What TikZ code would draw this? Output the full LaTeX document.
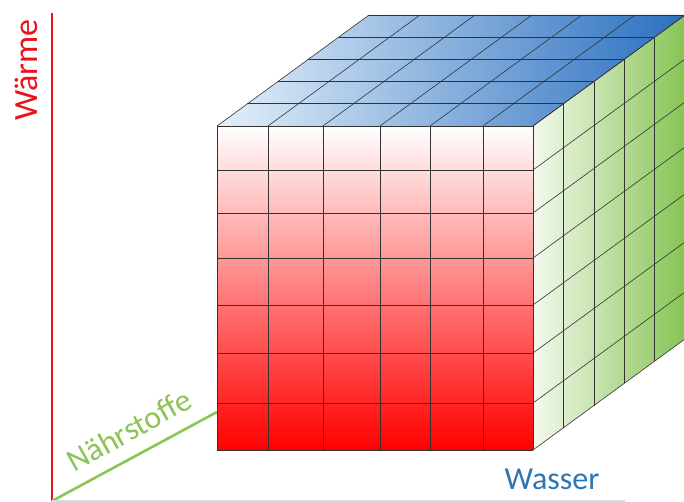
\documentclass[tikz,border=0pt]{standalone}
\usepackage{fontspec}
\setmainfont{Carlito}
\usepackage{tikz}
\usetikzlibrary{calc}

\definecolor{heatred}{HTML}{E8141C}
\definecolor{feedgreen}{HTML}{8CC455}
\definecolor{waterblue}{HTML}{2E75B6}
\definecolor{toplight}{HTML}{E4F0FA}
\definecolor{topdark}{HTML}{2A6FC0}
\definecolor{sidelight}{HTML}{F4F9EE}
\definecolor{sidedark}{HTML}{86C454}

\begin{document}
\begin{tikzpicture}[
  x=1pt, y=-1pt,
  grid/.style={draw=black!80, line width=0.6pt},
  axis/.style={line width=2.2pt},
  axislabel/.style={font=\fontsize{32}{36}\selectfont, inner sep=0pt}
]
\useasboundingbox (0,0) rectangle (684,502);

% axes
\coordinate (origin) at (52,501);
\coordinate (heatend) at (52,13);
\coordinate (feedend) at (217,412);
\coordinate (waterend) at (625,501);
\draw[axis, heatred] (origin) -- (heatend);
\draw[axis, feedgreen, line width=2.6pt] (origin) -- (feedend);
\draw[axis, waterblue!25, line width=1.5pt] (origin) -- (waterend);

% cube faces
\shade[top color=white, bottom color=red] (217,126) rectangle (533,450);
\shade[left color=toplight, right color=topdark] (217,126) -- (533,126) -- (685,15) -- (369,15) -- cycle;
\shade[left color=sidelight, right color=sidedark] (533,126) -- (685,15) -- (685,339) -- (533,450) -- cycle;

% front grid
\foreach \x in {217,268,323,380,430,483,533}
  \draw[grid] (\x,126) -- (\x,450);
\foreach \y in {126,170,213,258,305,353,403,450}
  \draw[grid] (217,\y) -- (533,\y);

% top grid
\foreach \x in {217,268,323,380,430,483,533}
  \draw[grid] (\x,126) -- ++(152,-111);
\foreach \k in {0,...,5}
  \draw[grid] (217+30.4*\k,126-22.2*\k) -- ++(316,0);

% side grid
\foreach \k in {0,...,5}
  \draw[grid] (533+30.4*\k,126-22.2*\k) -- ++(0,324);
\foreach \y in {126,170,213,258,305,353,403,450}
  \draw[grid] (533,\y) -- ++(152,-111);

% labels
\node[axislabel, text=heatred, rotate=90, font=\fontsize{34}{38}\selectfont] (waerme) at (26,70) {Wärme};
\node[axislabel, text=feedgreen, rotate=29] (naehrstoffe) at (129,430) {Nährstoffe};
\node[axislabel, text=waterblue] (wasser) at (552,479) {Wasser};
\end{tikzpicture}
\end{document}
